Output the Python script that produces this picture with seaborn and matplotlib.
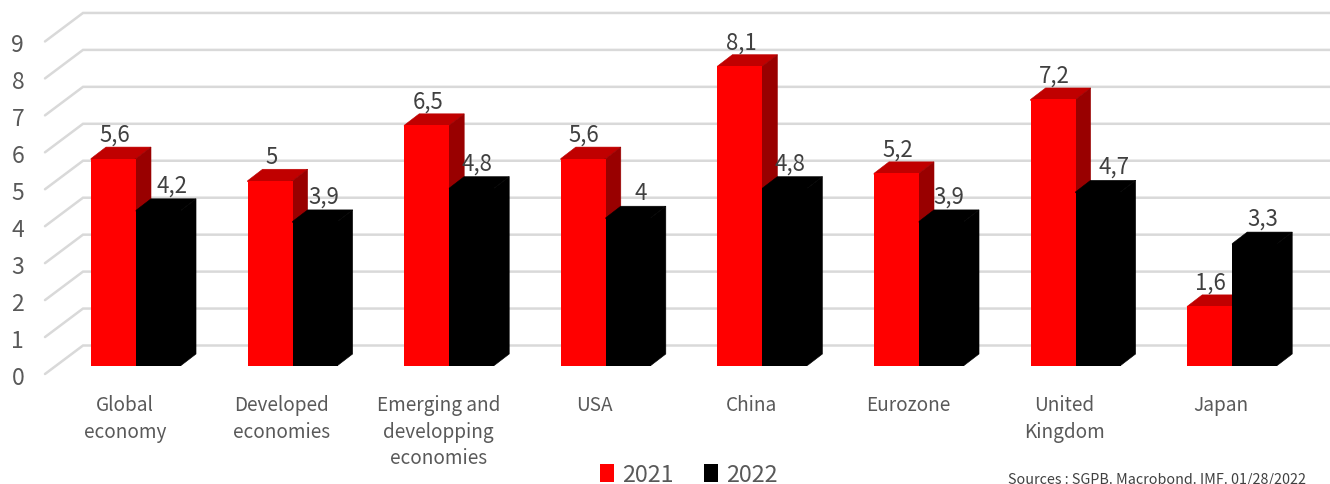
import matplotlib
matplotlib.use("Agg")
import matplotlib.pyplot as plt
from matplotlib.patches import Polygon
from matplotlib.transforms import ScaledTranslation
import pandas as pd
import seaborn as sns

regions = ["Global\neconomy", "Developed\neconomies", "Emerging and\ndevelopping\neconomies",
           "USA", "China", "Eurozone", "United\nKingdom", "Japan"]
growth_2021 = [5.6, 5, 6.5, 5.6, 8.1, 5.2, 7.2, 1.6]
growth_2022 = [4.2, 3.9, 4.8, 4, 4.8, 3.9, 4.7, 3.3]
years = ["2021", "2022"]
y_ticks = list(range(10))
source_note = "Sources : SGPB. Macrobond. IMF. 01/28/2022"

W, H = 1330, 485
GREY = "#595959"
GRID = "#D9D9D9"
FACE = {"2021": ("#FF0000", "#C00000", "#990000"), "2022": ("#000000", "#000000", "#000000")}

sns.set_theme(style="white")
plt.rcParams["font.family"] = ["Noto Sans CJK SC", "DejaVu Sans"]

df = pd.DataFrame({
    "region": regions * 2,
    "year": [years[0]] * len(regions) + [years[1]] * len(regions),
    "growth": growth_2021 + growth_2022,
})

# Plot area in pixels; one category is 156.6 px wide, one growth point 36.95 px tall
left, right, top, bottom = 45, 1330, 0, 380
cat_px, unit_px = 156.6, 36.95
first_cat_px, zero_px = 136, 366.5

fig = plt.figure(figsize=(W / 100, H / 100), dpi=100, facecolor="white")
ax = fig.add_axes([left / W, 1 - bottom / H, (right - left) / W, (bottom - top) / H])

sns.barplot(data=df, x="region", y="growth", hue="year", hue_order=years,
            palette={y: FACE[y][0] for y in years}, width=0.575, gap=0,
            saturation=1, errorbar=None, dodge=True, ax=ax, linewidth=0)

x0 = (left - first_cat_px) / cat_px
x1 = (right - first_cat_px) / cat_px
ax.set_xlim(x0, x1)
ax.set_ylim((zero_px - bottom) / unit_px, (zero_px - top) / unit_px)

# Back wall and side wall grid lines
wall_dx = 38 / cat_px
for v in y_ticks:
    ax.plot([x0, x0 + wall_dx, x1],
            [v - 8.5 / unit_px, v + 20 / unit_px, v + 20 / unit_px],
            color=GRID, lw=1.8, zorder=1, solid_joinstyle="miter", clip_on=False)

# Extruded top and side faces for each bar; their inner edges run 1 px under the front face
depth_x, depth_y = 15 / cat_px, 11.5 / unit_px
lap_x, lap_y = 1 / cat_px, 1 / unit_px
black_label_shift = [13.5, 8.5, 5.5, 12.5, 5.5, 7, 16, 8.5]
for k, (year, container) in enumerate(zip(years, ax.containers)):
    front_col, top_col, side_col = FACE[year]
    z = 2 + 2 * k
    for i, bar in enumerate(container):
        bx, bw, bh = bar.get_x(), bar.get_width(), bar.get_height()
        ax.add_patch(Polygon([(bx, bh - lap_y), (bx, bh), (bx + depth_x, bh + depth_y),
                              (bx + bw + depth_x, bh + depth_y), (bx + bw, bh), (bx + bw, bh - lap_y)],
                             closed=True, fc=top_col, ec=top_col, lw=0.4, zorder=z))
        ax.add_patch(Polygon([(bx + bw - lap_x, 0), (bx + bw, 0), (bx + bw + depth_x, depth_y),
                              (bx + bw + depth_x, bh + depth_y), (bx + bw, bh), (bx + bw - lap_x, bh)],
                             closed=True, fc=side_col, ec=side_col, lw=0.4, zorder=z))
        bar.set_zorder(z + 1)
        text = f"{bh:g}".replace(".", ",")
        shift = 0.72 * (1 if k == 0 else black_label_shift[i])
        rise = 0.72 * (24.5 if k == 0 else 25.5)
        ax.annotate(text, (bx + bw / 2, bh), xytext=(shift, rise), textcoords="offset points",
                    ha="center", va="center", fontsize=16, color="#404040", zorder=8)

sns.despine(ax=ax, left=True, bottom=True)

ax.set_xlabel("")
ax.set_ylabel("")
ax.set_yticks(y_ticks, [str(v) for v in y_ticks])
ax.tick_params(axis="y", length=0, pad=15, labelsize=16.5, labelcolor=GREY)
ax.tick_params(axis="x", length=0, pad=11, labelsize=13.7, labelcolor=GREY)
ax.set_xticks(range(len(regions)), regions, linespacing=1.35)

# The axis labels sit on the front edge of the floor, not on the bars' baseline
y_shift = ScaledTranslation(0, -9.5 * 0.72 / 72, fig.dpi_scale_trans)
for lab in ax.get_yticklabels():
    lab.set_transform(lab.get_transform() + y_shift)
x_shift = ScaledTranslation(-11 * 0.72 / 72, 0, fig.dpi_scale_trans)
for lab in ax.get_xticklabels():
    lab.set_transform(lab.get_transform() + x_shift)

sns.move_legend(ax, "center", bbox_to_anchor=(689 / W, 1 - 476 / H),
                bbox_transform=fig.transFigure, ncol=2, frameon=False, title=None,
                fontsize=16.8, labelcolor=GREY, handlelength=0.6, handleheight=0.8,
                handletextpad=0.35, columnspacing=1.3, borderpad=0, borderaxespad=0)

fig.text(1008 / W, 1 - 480 / H, source_note, ha="left", va="center",
         fontsize=10.3, color="#404040")

fig.savefig("out.png", dpi=100, facecolor="white")
